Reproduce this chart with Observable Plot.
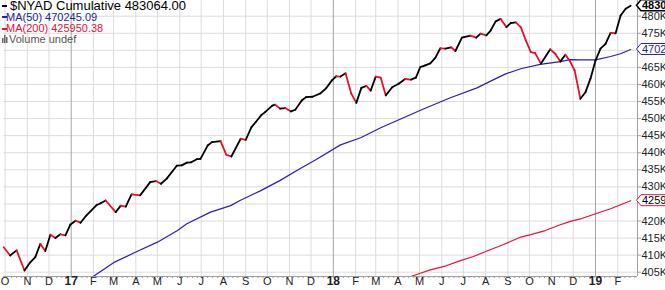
<!DOCTYPE html>
<html>
<head>
<meta charset="utf-8">
<script src="https://cdn.jsdelivr.net/npm/d3@7"></script>
<script src="https://cdn.jsdelivr.net/npm/@observablehq/plot@0.6"></script>
<style>
  html, body { margin: 0; padding: 0; background: #fff; }
  #wrap { position: relative; width: 665px; height: 290px; overflow: hidden; font-family: 'Liberation Sans', Arial, sans-serif; }
  #legend { position: absolute; left: 0; top: 0; pointer-events: none; }
  #legend .row { position: absolute; white-space: nowrap; }
  #legend .dash { position: absolute; left: 2px; width: 5px; height: 2px; }
</style>
</head>
<body>
<div id="wrap"></div>
<script>
// ---- data ----
const nyadDates = [
  "2016-09-29","2016-10-08","2016-10-17","2016-10-28","2016-11-05","2016-11-12","2016-11-19","2016-11-26","2016-12-03","2016-12-10","2016-12-17","2016-12-24","2016-12-31",
  "2017-01-07","2017-01-14","2017-01-22","2017-02-05","2017-02-11","2017-02-18","2017-03-04","2017-03-11","2017-03-18","2017-03-26","2017-04-07","2017-04-21","2017-04-29","2017-05-06","2017-05-14","2017-05-28","2017-06-04","2017-06-11","2017-06-17","2017-06-25","2017-06-30","2017-07-10","2017-07-16","2017-07-28","2017-08-05","2017-08-12","2017-08-25","2017-09-01","2017-09-09","2017-09-15","2017-09-23","2017-09-28","2017-10-08","2017-10-12","2017-10-19","2017-10-26","2017-11-03","2017-11-09","2017-11-18","2017-11-24","2017-12-03","2017-12-14","2017-12-22","2017-12-30",
  "2018-01-05","2018-01-11","2018-01-18","2018-01-26","2018-02-02","2018-02-09","2018-02-16","2018-02-22","2018-03-01","2018-03-08","2018-03-15","2018-03-24","2018-04-02","2018-04-11","2018-04-19","2018-04-26","2018-05-02","2018-05-09","2018-05-16","2018-05-23","2018-05-30","2018-06-06","2018-06-14","2018-06-20","2018-06-29","2018-07-11","2018-07-19","2018-07-25","2018-08-02","2018-08-08","2018-08-15","2018-08-22","2018-08-30","2018-09-05","2018-09-12","2018-09-19","2018-09-26","2018-10-03","2018-10-09","2018-10-17","2018-10-30","2018-11-06","2018-11-13","2018-11-20","2018-11-26","2018-12-03","2018-12-11","2018-12-18","2018-12-25",
  "2019-01-01","2019-01-08","2019-01-15","2019-01-22","2019-01-29","2019-02-05","2019-02-12","2019-02-19"
];
const nyadValues = [
  412300,409900,411400,405500,407900,409400,413300,411200,416000,415000,416100,415800,419000,
  420100,419500,421600,424600,425200,426000,422600,424500,424200,427800,427500,431400,431700,430900,432400,436200,436300,437100,437200,438100,438200,442100,443100,443400,439400,438900,444100,443800,447500,449000,451100,451900,453800,454100,452900,453100,452100,452600,455300,456300,456400,457400,458900,461200,
  462400,462300,463300,457300,454600,459000,459600,458200,462300,462000,456800,459200,460200,461600,461400,462000,465100,465600,466200,467800,470600,470500,470900,469800,473700,474300,473700,474900,474400,475800,478500,479200,476800,478000,478200,476800,472900,469500,469200,466100,470300,469000,466700,468700,467000,464100,455800,457700,461700,
  467000,470500,471900,475100,475000,480200,482200,483064.00
];

const ma50Dates = ["2016-12-17","2017-02-01","2017-03-01","2017-04-01","2017-05-01","2017-05-29","2017-06-11","2017-07-14","2017-08-11","2017-08-24","2017-09-22","2017-10-19","2017-11-16","2017-12-07","2018-01-11","2018-02-08","2018-03-08","2018-05-04","2018-06-13","2018-07-20","2018-08-13","2018-08-29","2018-09-19","2018-10-16","2018-11-13","2018-11-27","2018-12-11","2019-01-01","2019-01-22","2019-02-05","2019-02-19"];
const ma50Values = [397600,403800,407800,410900,413800,417200,419200,422600,424500,426000,428900,431900,435400,437900,442300,444400,447300,452600,456100,459000,461500,463100,464600,465900,466700,467300,467200,467200,468200,469000,470245.09];

const ma200Dates = ["2018-04-04","2018-04-20","2018-05-02","2018-05-16","2018-06-06","2018-06-27","2018-07-15","2018-08-03","2018-08-26","2018-09-19","2018-10-03","2018-10-23","2018-11-13","2018-11-27","2018-12-11","2018-12-29","2019-01-22","2019-02-19"];
const ma200Values = [402600,403800,404700,405700,406800,408400,409600,411200,413100,415300,416000,417200,418900,419900,420600,421900,423600,425950.38];

const yTickValues = [405000,410000,415000,420000,425000,430000,435000,440000,445000,450000,455000,460000,465000,470000,475000,480000];
const monthLetters = ["J","F","M","A","M","J","J","A","S","O","N","D"];

const legendTitle = "$NYAD Cumulative";
const ma50Label = "MA(50)";
const ma200Label = "MA(200)";
const volumeLabel = "Volume undef";

// ---- colours ----
const UP = "#000000", DOWN = "#e8102e", MA50C = "#2c1fae", MA50T = "#1e1e96", MA200C = "#e8103c";

// ---- build tables ----
const parse = d3.utcParse("%Y-%m-%d");
const nyad = nyadDates.map((d, i) => ({date: parse(d), value: nyadValues[i]}));
const ma50 = ma50Dates.map((d, i) => ({date: parse(d), value: ma50Values[i]}));
const ma200 = ma200Dates.map((d, i) => ({date: parse(d), value: ma200Values[i]}));
const segs = d3.pairs(nyad).map(([a, b]) => ({a, b, down: b.value < a.value}));

const xStart = new Date("2016-09-28T18:00Z"), xEnd = new Date("2019-02-28T12:00Z");
const yDomain = [403740, 484600];
const months = d3.utcMonth.range(d3.utcMonth.ceil(xStart), xEnd);
const janMonths = months.filter(d => d.getUTCMonth() === 0);
const otherMonths = months.filter(d => d.getUTCMonth() !== 0);
const weeks = d3.utcMonday.range(xStart, xEnd);

const lastN = nyad[nyad.length - 1], last50 = ma50[ma50.length - 1], last200 = ma200[ma200.length - 1];
const tagList = [
  {value: last200.value, label: d3.format(".0f")(last200.value), stroke: MA200C, fill: "#000", weight: "normal", sw: 1},
  {value: last50.value, label: d3.format(".0f")(last50.value), stroke: MA50C, fill: MA50T, weight: "normal", sw: 1},
  {value: lastN.value, label: d3.format(".0f")(lastN.value), stroke: "#000", fill: "#000", weight: "bold", sw: 1.5}
];
// axis labels that sit under a value tag are hidden by it in the reference
const yLabelTicks = yTickValues.filter(v => tagList.every(t => Math.abs(t.value - v) > 2400));

function tags(index, scales, values, dims) {
  const g = d3.create("svg:g").attr("text-anchor", "start");
  const xR = dims.width - dims.marginRight;
  for (const t of tagList) {
    const y = scales.y(t.value);
    g.append("path")
      .attr("d", `M${xR - 0.5},${y}L${xR + 4},${y - 5.5}H${dims.width + 5}V${y + 5.5}H${xR + 4}Z`)
      .attr("fill", "white").attr("stroke", t.stroke).attr("stroke-width", t.sw);
    g.append("text")
      .attr("x", xR + 5).attr("y", y).attr("dy", "0.36em")
      .attr("text-anchor", "start")
      .attr("font-size", 11).attr("font-weight", t.weight)
      .attr("fill", t.fill).text(t.label);
  }
  return g.node();
}

const chart = Plot.plot({
  width: 665, height: 290,
  marginLeft: 3, marginRight: 28, marginTop: 0, marginBottom: 14,
  style: {fontFamily: "'Liberation Sans', Arial, sans-serif", background: "white"},
  x: {type: "utc", domain: [xStart, xEnd], axis: null, label: null},
  y: {domain: yDomain, axis: null, label: null},
  marks: [
    Plot.gridY(yTickValues, {stroke: "#dcdcdc", strokeOpacity: 1}),
    Plot.ruleX(otherMonths, {x: d => d, stroke: "#dcdcdc"}),
    Plot.ruleX(janMonths, {x: d => d, stroke: "#a4a4a4"}),
    Plot.ruleY([yDomain[0]], {stroke: "#a0a0a0"}),
    Plot.ruleX([xEnd], {x: d => d, stroke: "#a0a0a0"}),
    Plot.axisX({ticks: weeks, tickSize: 2, tickFormat: () => "", stroke: "#9a9a9a", label: null}),
    Plot.text(otherMonths, {x: d => d, frameAnchor: "bottom", dy: 8, text: d => monthLetters[d.getUTCMonth()], fontSize: 11, fill: "#222"}),
    Plot.text(janMonths, {x: d => d, frameAnchor: "bottom", dy: 8, text: d => d3.utcFormat("%y")(d), fontSize: 12, fontWeight: "bold", fill: "#222"}),
    Plot.axisY({anchor: "right", ticks: yLabelTicks, tickSize: 3, tickPadding: 1, tickFormat: d => d / 1000 + "K", fontSize: 11, fill: "#222", stroke: "#a0a0a0", label: null}),
    Plot.line(ma200, {x: "date", y: "value", stroke: MA200C, strokeWidth: 1.2, clip: true}),
    Plot.line(ma50, {x: "date", y: "value", stroke: MA50C, strokeWidth: 1.2, clip: true}),
    Plot.link(segs, {x1: d => d.a.date, y1: d => d.a.value, x2: d => d.b.date, y2: d => d.b.value,
      stroke: d => d.down ? DOWN : UP, strokeWidth: 1.8, strokeLinecap: "round"}),
    tags
  ]
});

const wrap = document.getElementById("wrap");
wrap.appendChild(chart);

// legend overlaid on the top-left of the plot
const legend = document.createElement("div");
legend.id = "legend";
const fmt2 = d3.format(".2f");
legend.innerHTML = `
  <div class="dash" style="top:5px;background:${UP}"></div>
  <div class="row" style="left:10px;top:0px;font-size:13px;line-height:12px;color:#000">${legendTitle} ${fmt2(lastN.value)}</div>
  <div class="dash" style="top:16px;background:${MA50C}"></div>
  <div class="row" style="left:6px;top:11.5px;font-size:11px;line-height:11px;color:${MA50T}">${ma50Label} ${fmt2(last50.value)}</div>
  <div class="dash" style="top:27.5px;background:${MA200C}"></div>
  <div class="row" style="left:6px;top:23px;font-size:11px;line-height:11px;color:${MA200C}">${ma200Label} ${fmt2(last200.value)}</div>
  <svg style="position:absolute;left:2px;top:35px" width="6" height="8"><rect x="0" y="3" width="1.5" height="5" fill="#666"/><rect x="2" y="0" width="1.5" height="8" fill="#666"/><rect x="4" y="2" width="1.5" height="6" fill="#666"/></svg>
  <div class="row" style="left:9px;top:34px;font-size:11px;line-height:11px;color:#555">${volumeLabel}</div>
`;
wrap.appendChild(legend);
</script>
</body>
</html>
